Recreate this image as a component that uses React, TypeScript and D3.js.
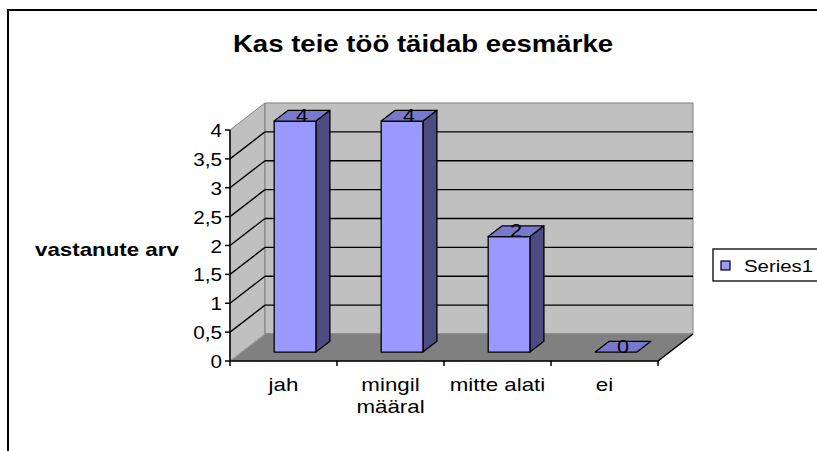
import React from "react";
import * as d3 from "d3";

// chart values
const categories = ["jah", "mingil määral", "mitte alati", "ei"];
const catLines = [["jah"], ["mingil", "määral"], ["mitte alati"], ["ei"]];
const values = [4, 4, 2, 0];
const yTicks = [0, 0.5, 1, 1.5, 2, 2.5, 3, 3.5, 4];
const seriesName = "Series1";

const W = 817, H = 451;
const DX = 35, DY = 27; // depth of the 3d box
const Z0 = 0.33, Z1 = 0.73; // bar position inside the depth
const SX = 1.22; // the original picture is stretched sideways, so is its text

const font = "Arial, 'Liberation Sans', sans-serif";
const fmt = (v: number) => String(v).replace(".", ",");

// text stretched horizontally around its anchor point
function T(props: { x: number; y: number; size: number; anchor?: string; bold?: boolean; sx?: number; children: React.ReactNode }) {
  const { x, y, size, anchor = "start", bold = false, sx = SX } = props;
  return (
    <text transform={`translate(${x},${y}) scale(${sx},1)`} textAnchor={anchor}
      fontFamily={font} fontSize={size} fontWeight={bold ? "bold" : "normal"} fill="#000" stroke="none">
      {props.children}
    </text>
  );
}

export default function App() {
  const y = d3.scaleLinear().domain([0, 4]).range([361, 130]);
  const x = d3.scaleBand<string>()
    .domain(categories)
    .range([230, 658])
    .paddingInner(0.61)
    .paddingOuter(0.305);
  const step = x.step();
  const x0 = 230, x1 = 658;
  const y0 = y(0), yTop = y(4);

  const pts = (a: number[][]) => a.map(p => p.join(",")).join(" ");

  return (
    <svg width={W} height={H} style={{ position: "absolute", left: 0, top: 0, background: "#fff" }}>
      {/* outer frame */}
      <path d={`M8,${H} L8,10 L${W},10`} fill="none" stroke="#000" strokeWidth={2} />

      <T x={423} y={52} size={23} anchor="middle" bold sx={1.2}>Kas teie töö täidab eesmärke</T>

      {/* walls */}
      <polygon points={pts([[x0, yTop], [x0 + DX, yTop - DY], [x0 + DX, y0 - DY], [x0, y0]])}
        fill="#c0c0c0" stroke="#808080" />
      <polygon points={pts([[x0 + DX, yTop - DY], [x1 + DX, yTop - DY], [x1 + DX, y0 - DY], [x0 + DX, y0 - DY]])}
        fill="#c0c0c0" stroke="#808080" />
      <polygon points={pts([[x0, y0], [x1, y0], [x1 + DX, y0 - DY], [x0 + DX, y0 - DY]])}
        fill="#808080" stroke="#808080" />
      <line x1={x0} y1={y0} x2={x0 + DX} y2={y0 - DY} stroke="#a8a8a8" />
      <line x1={x1} y1={y0} x2={x1 + DX} y2={y0 - DY} stroke="#000" strokeWidth={1.5} />

      {/* gridlines */}
      {yTicks.filter(t => t > 0 && t < 4).map(t => (
        <g key={t}>
          <line x1={x0} y1={y(t)} x2={x0 + DX} y2={y(t) - DY} stroke="#000" strokeWidth={1.3} />
          <line x1={x0 + DX} y1={y(t) - DY} x2={x1 + DX} y2={y(t) - DY} stroke="#000" strokeWidth={1.3} />
        </g>
      ))}

      {/* axes */}
      <line x1={x0} y1={yTop} x2={x0} y2={y0} stroke="#000" strokeWidth={1.5} />
      {yTicks.map(t => (
        <g key={t}>
          <line x1={x0 - 5} y1={y(t)} x2={x0} y2={y(t)} stroke="#000" strokeWidth={1.5} />
          <T x={x0 - 8} y={y(t) + 7} size={18} anchor="end" sx={1.15}>{fmt(t)}</T>
        </g>
      ))}
      <line x1={x0} y1={y0} x2={x1} y2={y0} stroke="#000" strokeWidth={1.5} />
      {d3.range(categories.length + 1).map(i => (
        <line key={i} x1={x0 + i * step} y1={y0} x2={x0 + i * step} y2={y0 + 5} stroke="#000" strokeWidth={1.5} />
      ))}
      {categories.map((c, i) => (
        <g key={c}>
          {catLines[i].map((l, j) => (
            <T key={j} x={(x(c) as number) + x.bandwidth() / 2} y={391 + j * 22} size={18} anchor="middle" sx={1.24}>{l}</T>
          ))}
        </g>
      ))}

      {/* bars */}
      {categories.map((c, i) => {
        const bx = x(c) as number, bw = x.bandwidth();
        const fx = bx + Z0 * DX, fy = -Z0 * DY;
        const ddx = (Z1 - Z0) * DX, ddy = (Z1 - Z0) * DY;
        const top = y(values[i]) + fy, bot = y0 + fy;
        const cx = bx + bw / 2 + ((Z0 + Z1) / 2) * DX;
        const cy = y(values[i]) - ((Z0 + Z1) / 2) * DY;
        return (
          <g key={c} stroke="#000" strokeWidth={1.3} strokeLinejoin="round">
            {values[i] > 0 && (
              <>
                <polygon points={pts([[fx + bw, top], [fx + bw + ddx, top - ddy], [fx + bw + ddx, bot - ddy], [fx + bw, bot]])} fill="#4c4c80" />
                <rect x={fx} y={top} width={bw} height={bot - top} fill="#9999ff" />
              </>
            )}
            <polygon points={pts([[fx, top], [fx + ddx, top - ddy], [fx + bw + ddx, top - ddy], [fx + bw, top]])} fill="#7878cc" />
            <T x={cx} y={cy + 6} size={18} anchor="middle" sx={1.2}>{values[i]}</T>
          </g>
        );
      })}

      {/* y axis title */}
      <T x={35} y={256} size={18} bold sx={1.24}>vastanute arv</T>

      {/* legend */}
      <rect x={713} y={249} width={W} height={32} fill="#fff" stroke="#000" strokeWidth={1.3} />
      <rect x={721} y={261} width={9} height={9} fill="#9999ff" stroke="#000" strokeWidth={1.2} />
      <T x={744} y={272} size={17} sx={1.2}>{seriesName}</T>
    </svg>
  );
}
